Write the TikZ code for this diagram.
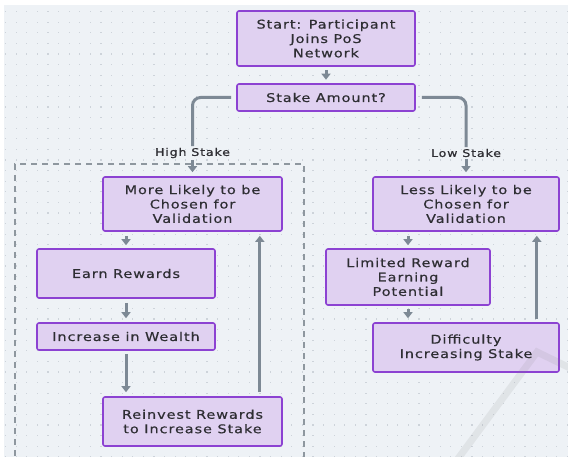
\documentclass[tikz,border=0pt]{standalone}
\usepackage{fontspec}
\setmainfont[FakeStretch=1.2,LetterSpace=8,FakeBold=0.6]{DejaVu Sans}
\usetikzlibrary{arrows.meta}
\definecolor{bgc}{HTML}{EEF2F6}
\definecolor{dotc}{HTML}{CDD3DA}
\definecolor{boxfill}{HTML}{E0D1F1}
\definecolor{boxdraw}{HTML}{8C42D2}
\definecolor{arrc}{HTML}{7D8995}
\definecolor{txtc}{HTML}{2E2E33}
\definecolor{dashc}{HTML}{8E979F}
\tikzset{
  box/.style={draw=boxdraw, fill=boxfill, line width=1.6pt, rounded corners=2pt,
    align=center, inner sep=0pt, text=txtc, font=\fontsize{12}{14.4}\selectfont},
  conn/.style={draw=arrc, line width=3pt},
  arr/.style={conn, -{Triangle[width=9pt,length=6pt]}},
  lbl/.style={text=txtc, font=\fontsize{10.5}{12}\selectfont, inner sep=1.5pt}
}
\begin{document}
\begin{tikzpicture}[x=1pt,y=-1pt]
\useasboundingbox (0,0) rectangle (568,457);
\fill[white] (0,0) rectangle (568,457);
\fill[bgc] (4,5) rectangle (568,457);
\foreach \i in {0,...,53}{
  \foreach \j in {0,...,42}{
    \fill[dotc] (5+\i*10.6,11+\j*10.6) rectangle ++(1.2,1.2);
  }
}
% dashed group
\draw[dashc, line width=1.5pt, dash pattern=on 6pt off 5pt] (304,458) -- (304,164) -- (15,164) -- (15,458);
% boxes
\node[box, minimum width=178pt, minimum height=55pt] (start) at (326,38.5) {Start: Participant\\Joins PoS\\Network};
\node[box, minimum width=178pt, minimum height=27pt] (stake) at (326,97.5) {Stake Amount?};
\node[box, minimum width=179pt, minimum height=54pt] (more) at (192.5,204) {More Likely to be\\Chosen for\\Validation};
\node[box, minimum width=178pt, minimum height=49pt] (earn) at (126,273.5) {Earn Rewards};
\node[box, minimum width=178pt, minimum height=27pt] (wealth) at (126,336.5) {Increase in Wealth};
\node[box, minimum width=179pt, minimum height=49pt] (reinvest) at (192.5,421.5) {Reinvest Rewards\\to Increase Stake};
\node[box, minimum width=186pt, minimum height=54pt] (less) at (466,204) {Less Likely to be\\Chosen for\\Validation};
\node[box, minimum width=164pt, minimum height=56pt] (limited) at (408,277) {Limited Reward\\Earning\\Potential};
\node[box, minimum width=186pt, minimum height=49pt] (difficulty) at (466,347.5) {Difficulty\\Increasing Stake};
% labels
\node[lbl] (hs) at (192.5,153) {High Stake};
\node[lbl] (ls) at (466,153) {Low Stake};
% connectors
\draw[arr, shorten <=3pt, shorten >=3.5pt] (start) -- (stake);
\draw[conn, rounded corners=8pt, shorten <=5pt] (stake.west) -| (hs.north);
\draw[conn, rounded corners=8pt, shorten <=6pt] (stake.east) -| (ls.north);
\draw[arr, shorten >=4pt] (hs.south) -- (more.north);
\draw[arr, shorten >=4pt] (ls.south) -- (less.north);
\draw[arr, shorten <=4pt, shorten >=3pt] (earn.north |- more.south) -- (earn.north);
\draw[arr, shorten <=4pt, shorten >=4pt] (earn) -- (wealth);
\draw[arr, shorten <=3pt, shorten >=4pt] (wealth.south) -- (wealth.south |- reinvest.north);
\coordinate (rup) at ([xshift=-23pt]reinvest.north east);
\draw[arr, shorten <=4pt, shorten >=4pt] (rup) -- (rup |- more.south);
\draw[arr, shorten <=4pt, shorten >=3pt] (limited.north |- less.south) -- (limited.north);
\draw[arr, shorten <=3pt, shorten >=4pt] (limited.south) -- (limited.south |- difficulty.north);
\coordinate (dup) at ([xshift=-23pt]difficulty.north east);
\draw[arr, shorten <=3pt, shorten >=4pt] (dup) -- (dup |- less.south);
% faint watermark streak
\draw[gray, opacity=0.12, line width=7pt] (457,460) -- (537,352) -- (570,368);
\end{tikzpicture}
\end{document}
